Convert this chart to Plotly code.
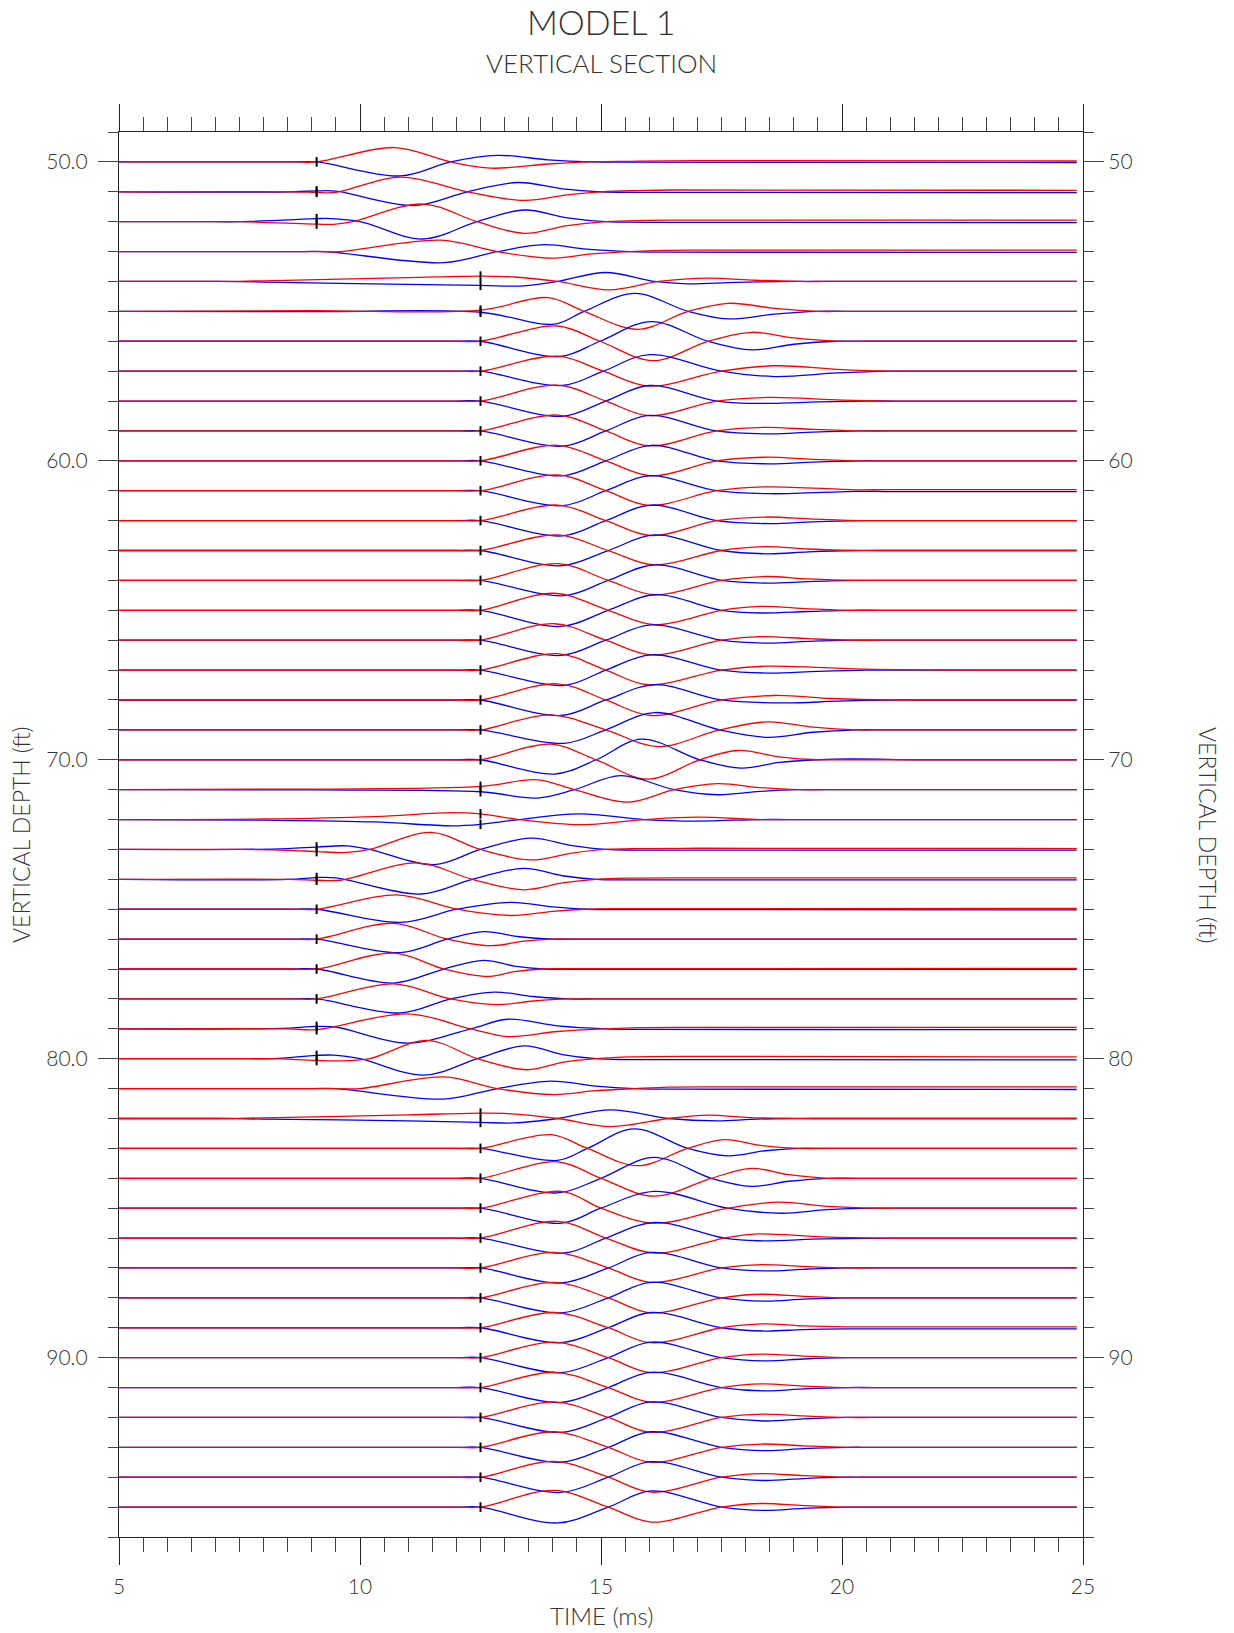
import plotly.graph_objects as go

# ---------------- data ----------------
DEPTHS = list(range(50, 96))

# arrival-time picks (black tick marks); None = no pick drawn
ARRIVAL = ([9.1, 9.1, 9.1, None] + [12.5] * 19 + [9.1] * 8 + [None] + [12.5] * 14)

# control points (time ms, amplitude in depth units, + = upward) for each depth
RED_PTS = [
    [[5,0],[8.6,0],[9.1,0],[10.72,0.48],[11.88,0],[12.71,-0.21],[13.9,-0.07],[14.8,0],[15.6,0.02],[17,0.04],[24.87,0.03]],
    [[5,0],[8.6,0],[9.1,-0.02],[9.5,-0.02],[10.84,0.49],[12.23,0],[13.41,-0.29],[14.3,-0.1],[15.0,0],[15.8,0.04],[16.5,0.06],[24.87,0.05]],
    [[5,0],[7.0,0],[7.5,0],[9.1,-0.08],[9.45,-0.09],[9.85,0],[11.3,0.59],[12.43,0],[13.41,-0.39],[14.3,-0.13],[15.1,0],[15.9,0.04],[16.5,0.05],[24.87,0.05]],
    [[5,0],[9.1,0],[9.6,0],[11.67,0.38],[12.85,0],[13.96,-0.22],[14.8,-0.08],[15.6,0],[16.3,0.04],[17,0.05],[24.87,0.05]],
    [[5,0],[7,0],[8,0.02],[11,0.13],[12.5,0.18],[13.2,0.15],[14.1,0],[15.17,-0.28],[16.2,0],[17.22,0.11],[18.2,0.04],[19.1,0],[19.7,0],[24.87,0]],
    [[5,0],[9,0.02],[12.5,0.04],[13.9,0.46],[14.65,0],[15.76,-0.6],[16.81,0],[17.64,0.27],[18.6,0.1],[19.5,0],[20.1,0],[24.87,0]],
    [[5,0],[12.0,0],[12.5,0],[14.1,0.51],[14.98,0],[16.08,-0.65],[17.22,0],[18.13,0.3],[19.0,0.11],[19.9,0],[20.5,0],[24.87,0]],
    [[5,0],[12.0,0],[12.5,0],[14.1,0.5],[15.05,0],[16.0,-0.5],[17.5,0],[18.6,0.18],[19.9,0.06],[21.0,0],[21.6,0],[24.87,0]],
    [[5,0],[12.0,0],[12.5,0],[14.1,0.53],[15.1,0],[16.0,-0.49],[17.4,0],[18.46,0.12],[20,0.03],[21,0],[21.6,0],[24.87,0]],
    [[5,0],[12.0,0],[12.5,0],[14.1,0.53],[15.1,0],[16.0,-0.5],[17.4,0],[18.4,0.12],[19.4,0.05],[20.4,0],[21.0,0],[24.87,0]],
    [[5,0],[12.0,0],[12.5,0],[14.1,0.52],[15.1,0],[16.04,-0.5],[17.4,0],[18.4,0.12],[19.4,0.05],[20.4,0],[21.0,0],[24.87,0]],
    [[5,0],[12.0,0],[12.5,0],[14.1,0.53],[15.1,0],[16.0,-0.49],[17.4,0],[18.4,0.13],[20.3,0.03],[21,0.04],[24.87,0.04]],
    [[5,0],[12.0,0],[12.5,0],[14.1,0.52],[15.1,0],[16.04,-0.5],[17.4,0],[18.4,0.12],[19.4,0.05],[20.4,0],[21.0,0],[24.87,0]],
    [[5,0],[12.0,0],[12.5,0],[14.1,0.52],[15.15,0],[16.11,-0.48],[17.5,0],[18.4,0.13],[19.3,0.05],[20.2,0],[20.8,0],[24.87,0]],
    [[5,0],[12.0,0],[12.5,0],[14.1,0.56],[15.15,0],[16.11,-0.48],[17.5,0],[18.4,0.13],[19.3,0.05],[20.2,0],[20.8,0],[24.87,0]],
    [[5,0],[12.0,0],[12.5,0],[14.03,0.57],[15.15,0],[16.11,-0.48],[17.5,0],[18.3,0.13],[19.3,0.05],[20.2,0],[20.8,0],[24.87,0]],
    [[5,0],[12.0,0],[12.5,0],[14.03,0.55],[15.1,0],[16.04,-0.49],[17.5,0],[18.3,0.12],[19.3,0.05],[20.2,0],[20.8,0],[24.87,0]],
    [[5,0],[12.0,0],[12.5,0],[14.1,0.55],[15.1,0],[15.97,-0.49],[17.5,0],[18.4,0.13],[20.5,0.03],[22.7,0],[23.3,0],[24.87,0]],
    [[5,0],[12.0,0],[12.5,0],[14.1,0.54],[15.1,0],[16.04,-0.52],[17.5,0],[18.6,0.15],[19.8,0.05],[21,0],[21.6,0],[24.87,0]],
    [[5,0],[12.0,0],[12.5,0],[13.96,0.5],[15.1,0],[16.18,-0.56],[17.46,0],[18.46,0.27],[19.4,0.09],[20.3,0],[20.9,0],[24.87,0]],
    [[5,0],[12.0,0],[12.5,0],[13.96,0.52],[14.9,0],[15.97,-0.65],[17.05,0],[17.84,0.31],[18.7,0.1],[19.5,0],[20.1,0],[24.87,0]],
    [[5,0],[9,0.02],[12.5,0.11],[13.68,0.33],[14.45,0],[15.55,-0.42],[16.52,0],[17.42,0.2],[18.3,0.07],[19.1,0],[19.7,0],[24.87,0]],
    [[5,0],[8,0.02],[10.3,0.1],[11.9,0.23],[12.5,0.19],[13.3,0],[14.55,-0.17],[15.9,0],[17,0.08],[18.3,0],[18.9,0],[24.87,0]],
    [[5,0],[7.5,0],[8.5,-0.03],[9.1,-0.07],[9.73,-0.1],[10.2,0],[11.47,0.57],[12.5,0],[13.54,-0.35],[14.4,-0.12],[15.1,0],[15.8,0.03],[17,0.04],[24.87,0.03]],
    [[5,0],[8.5,0],[9.1,-0.03],[9.6,-0.03],[11.19,0.55],[12.33,0],[13.4,-0.35],[14.2,-0.12],[14.9,0],[15.6,0.04],[17,0.05],[24.87,0.05]],
    [[5,0],[8.6,0],[9.1,0],[10.77,0.48],[12.02,0],[13.13,-0.21],[14.0,-0.07],[14.7,0],[15.4,0.02],[24.87,0.03]],
    [[5,0],[8.6,0],[9.1,0],[10.7,0.53],[11.81,0],[12.71,-0.22],[13.4,-0.07],[14.0,0],[14.6,0],[24.87,0]],
    [[5,0],[8.6,0],[9.1,0],[10.7,0.53],[11.74,0],[12.64,-0.25],[13.2,-0.09],[13.8,0],[14.4,0.01],[24.87,0.02]],
    [[5,0],[8.6,0],[9.1,0],[10.7,0.5],[11.88,0],[12.85,-0.19],[13.6,-0.07],[14.3,0],[14.9,0],[24.87,0]],
    [[5,0],[8.5,0],[9.1,-0.03],[10.98,0.5],[12.3,0],[13.06,-0.26],[14.1,-0.09],[15.1,0],[15.8,0.04],[17,0.05],[24.87,0.05]],
    [[5,0],[7.7,0],[8.2,0],[9.1,-0.06],[9.66,-0.07],[10.2,0],[11.4,0.61],[12.44,0],[13.47,-0.37],[14.2,-0.12],[14.9,0],[15.6,0.06],[17,0.08],[24.87,0.06]],
    [[5,0],[9.5,0],[10.0,0],[11.74,0.39],[12.85,0],[14.03,-0.2],[14.9,-0.07],[15.7,0],[16.4,0.05],[17.5,0.06],[24.87,0.06]],
    [[5,0],[7,0],[8,0.02],[11,0.12],[12.5,0.18],[13.0,0.17],[14.1,0],[15.2,-0.27],[16.4,0],[17.22,0.11],[18.0,0.04],[18.8,0],[19.4,0],[24.87,0]],
    [[5,0],[12.0,0],[12.5,0],[13.96,0.46],[14.72,0],[15.76,-0.58],[16.8,0],[17.56,0.29],[18.3,0.1],[19.1,0],[19.7,0],[24.87,0]],
    [[5,0],[12.0,0],[12.5,0],[14.1,0.55],[15.0,0],[16.1,-0.6],[17.29,0],[18.12,0.33],[18.9,0.12],[19.7,0],[20.3,0],[24.87,0]],
    [[5,0],[12.0,0],[12.5,0],[14.18,0.56],[15.0,0],[16.11,-0.5],[17.63,0],[18.67,0.2],[19.7,0.06],[20.7,0],[21.3,0],[24.87,0]],
    [[5,0],[12.0,0],[12.5,0],[14.1,0.56],[15.1,0],[16.11,-0.5],[17.56,0],[18.26,0.14],[19.6,0.04],[21,0],[21.6,0],[24.87,0]],
    [[5,0],[12.0,0],[12.5,0],[14.03,0.52],[15.15,0],[16.04,-0.48],[17.5,0],[18.33,0.11],[19.2,0.05],[20.1,0],[20.7,0],[24.87,0]],
    [[5,0],[12.0,0],[12.5,0],[14.03,0.52],[15.15,0],[16.04,-0.5],[17.5,0],[18.33,0.12],[19.2,0.05],[20.1,0],[20.7,0],[24.87,0]],
    [[5,0],[12.0,0],[12.5,0],[14.03,0.51],[15.15,0],[16.04,-0.5],[17.5,0],[18.33,0.13],[19.2,0.06],[20.1,0.03],[24.87,0.03]],
    [[5,0],[12.0,0],[12.5,0],[14.03,0.52],[15.15,0],[16.04,-0.5],[17.5,0],[18.33,0.12],[19.2,0.05],[20.1,0],[20.7,0],[24.87,0]],
    [[5,0],[12.0,0],[12.5,0],[14.03,0.51],[15.15,0],[16.04,-0.49],[17.5,0],[18.33,0.12],[19.2,0.05],[20.1,0],[20.7,0],[24.87,0]],
    [[5,0],[12.0,0],[12.5,0],[14.03,0.52],[15.15,0],[16.04,-0.5],[17.5,0],[18.33,0.11],[19.2,0.05],[20.1,0],[20.7,0],[24.87,0]],
    [[5,0],[12.0,0],[12.5,0],[14.03,0.52],[15.15,0],[16.04,-0.5],[17.5,0],[18.33,0.11],[19.2,0.05],[20.1,0],[20.7,0],[24.87,0]],
    [[5,0],[12.0,0],[12.5,0],[14.03,0.53],[15.15,0],[16.04,-0.5],[17.5,0],[18.33,0.12],[19.2,0.05],[20.1,0],[20.7,0],[24.87,0]],
    [[5,0],[12.0,0],[12.5,0],[14.03,0.56],[15.15,0],[16.04,-0.5],[17.5,0],[18.33,0.12],[19.2,0.05],[20.1,0],[20.7,0],[24.87,0]],
]

BLUE_PTS = [
    [[5,0],[8.6,0],[9.1,0],[10.84,-0.47],[11.88,0],[12.85,0.22],[13.9,0.07],[14.8,0],[15.6,-0.01],[24.87,-0.02]],
    [[5,0],[8.6,0],[9.1,0.03],[9.5,0.02],[11.12,-0.46],[12.23,0],[13.27,0.31],[14.2,0.1],[15.0,0],[15.8,-0.02],[24.87,-0.03]],
    [[5,0],[7.0,0],[7.5,0],[9.1,0.1],[9.3,0.11],[10.0,0],[11.3,-0.58],[12.43,0],[13.41,0.39],[14.3,0.13],[15.1,0],[15.9,-0.02],[24.87,-0.03]],
    [[5,0],[8.8,0],[9.3,0],[11.74,-0.37],[12.85,0],[13.82,0.23],[14.7,0.08],[15.6,0],[16.3,-0.02],[24.87,-0.03]],
    [[5,0],[7,0],[8,-0.02],[11,-0.1],[12.5,-0.13],[13.4,-0.15],[14.1,0],[15.1,0.3],[16.1,0],[16.8,-0.08],[17.8,-0.03],[19.0,0],[19.6,0],[24.87,0]],
    [[5,0],[9,-0.01],[12.5,-0.03],[14.03,-0.43],[14.65,0],[15.7,0.6],[16.81,0],[17.64,-0.25],[18.6,-0.09],[19.5,0],[20.1,0],[24.87,0]],
    [[5,0],[12.0,0],[12.5,0],[14.15,-0.51],[14.98,0],[16.04,0.66],[17.22,0],[18.13,-0.29],[19.0,-0.1],[19.9,0],[20.5,0],[24.87,0]],
    [[5,0],[12.0,0],[12.5,0],[14.2,-0.48],[15.05,0],[16.0,0.55],[17.5,0],[18.6,-0.18],[19.9,-0.06],[21,0],[21.6,0],[24.87,0]],
    [[5,0],[12.0,0],[12.5,0],[14.2,-0.51],[15.1,0],[16.0,0.52],[17.4,0],[18.46,-0.08],[19.5,-0.03],[20.5,0],[21.1,0],[24.87,0]],
    [[5,0],[12.0,0],[12.5,0],[14.2,-0.51],[15.1,0],[16.0,0.52],[17.4,0],[18.5,-0.1],[19.4,-0.04],[20.4,0],[21.0,0],[24.87,0]],
    [[5,0],[12.0,0],[12.5,0],[14.2,-0.5],[15.1,0],[16.04,0.52],[17.4,0],[18.5,-0.1],[19.4,-0.04],[20.4,0],[21.0,0],[24.87,0]],
    [[5,0],[12.0,0],[12.5,0],[14.2,-0.5],[15.1,0],[16.0,0.5],[17.4,0],[18.5,-0.1],[20.3,-0.02],[21,-0.03],[24.87,-0.03]],
    [[5,0],[12.0,0],[12.5,0],[14.2,-0.51],[15.1,0],[16.04,0.52],[17.4,0],[18.5,-0.1],[19.4,-0.04],[20.4,0],[21.0,0],[24.87,0]],
    [[5,0],[12.0,0],[12.5,0],[14.17,-0.51],[15.15,0],[16.11,0.52],[17.5,0],[18.46,-0.11],[19.3,-0.045],[20.2,0],[20.8,0],[24.87,0]],
    [[5,0],[12.0,0],[12.5,0],[14.24,-0.51],[15.15,0],[16.11,0.52],[17.5,0],[18.46,-0.09],[19.3,-0.04],[20.2,0],[20.8,0],[24.87,0]],
    [[5,0],[12.0,0],[12.5,0],[14.17,-0.54],[15.15,0],[16.11,0.52],[17.5,0],[18.3,-0.09],[19.3,-0.04],[20.2,0],[20.8,0],[24.87,0]],
    [[5,0],[12.0,0],[12.5,0],[14.17,-0.51],[15.1,0],[16.04,0.51],[17.5,0],[18.46,-0.1],[19.3,-0.04],[20.2,0],[20.8,0],[24.87,0]],
    [[5,0],[12.0,0],[12.5,0],[14.24,-0.51],[15.1,0],[16.04,0.51],[17.5,0],[18.46,-0.1],[19.5,-0.04],[20.5,0],[21.1,0],[24.87,0]],
    [[5,0],[12.0,0],[12.5,0],[14.17,-0.52],[15.1,0],[16.11,0.51],[17.5,0],[18.81,-0.1],[19.9,-0.04],[21,0],[21.6,0],[24.87,0]],
    [[5,0],[12.0,0],[12.5,0],[14.24,-0.45],[15.1,0],[16.11,0.58],[17.46,0],[18.46,-0.25],[19.4,-0.08],[20.3,0],[20.9,0],[24.87,0]],
    [[5,0],[12.0,0],[12.5,0],[14.03,-0.48],[14.9,0],[15.84,0.69],[17.05,0],[17.91,-0.28],[18.7,-0.09],[19.5,0],[20.2,0.03],[21.5,0],[22.1,0],[24.87,0]],
    [[5,0],[9,-0.01],[12.5,-0.07],[13.68,-0.28],[14.45,0],[15.41,0.47],[16.52,0],[17.42,-0.17],[18.3,-0.06],[19.1,0],[19.7,0],[24.87,0]],
    [[5,0],[8,-0.02],[10.3,-0.08],[11.9,-0.21],[12.5,-0.16],[13.3,0],[14.55,0.19],[15.9,0],[17,-0.05],[18.3,0],[18.9,0],[24.87,0]],
    [[5,0],[7.5,0],[8.5,0.03],[9.1,0.08],[9.73,0.12],[10.2,0],[11.54,-0.51],[12.5,0],[13.54,0.38],[14.4,0.13],[15.1,0],[15.8,-0.02],[24.87,-0.02]],
    [[5,0],[8.5,0],[9.1,0.06],[9.5,0.05],[11.26,-0.49],[12.33,0],[13.4,0.37],[14.2,0.12],[14.9,0],[15.6,-0.02],[24.87,-0.02]],
    [[5,0],[8.6,0],[9.1,0],[10.84,-0.44],[12.02,0],[13.13,0.23],[14.0,0.08],[14.7,0],[15.4,-0.01],[24.87,-0.02]],
    [[5,0],[8.6,0],[9.1,0],[10.84,-0.45],[11.81,0],[12.57,0.25],[13.3,0.08],[14.0,0],[14.6,0],[24.87,0]],
    [[5,0],[8.6,0],[9.1,0],[10.7,-0.47],[11.74,0],[12.57,0.29],[13.2,0.1],[13.8,0],[14.4,-0.01],[24.87,-0.01]],
    [[5,0],[8.6,0],[9.1,0],[10.84,-0.47],[11.88,0],[12.78,0.23],[13.6,0.08],[14.3,0],[14.9,0],[24.87,0]],
    [[5,0],[8.0,0],[8.5,0.02],[9.1,0.08],[9.5,0.06],[10.98,-0.48],[12.3,0],[13.06,0.32],[14.1,0.1],[15.1,0],[15.8,-0.02],[24.87,-0.03]],
    [[5,0],[7.7,0],[8.2,0],[9.1,0.11],[9.45,0.12],[10.0,0],[11.33,-0.55],[12.44,0],[13.41,0.43],[14.2,0.14],[14.9,0],[15.6,-0.03],[24.87,-0.04]],
    [[5,0],[9.0,0],[9.5,0],[11.74,-0.35],[12.85,0],[13.96,0.25],[14.9,0.08],[15.7,0],[16.4,-0.02],[24.87,-0.03]],
    [[5,0],[7,0],[8,-0.02],[11,-0.08],[12.5,-0.13],[13.2,-0.15],[14.1,0],[15.2,0.29],[16.4,0],[17.42,-0.08],[18.1,-0.03],[18.8,0],[19.4,0],[24.87,0]],
    [[5,0],[12.0,0],[12.5,0],[14.1,-0.4],[14.72,0],[15.69,0.65],[16.8,0],[17.63,-0.25],[18.4,-0.08],[19.1,0],[19.7,0],[24.87,0]],
    [[5,0],[12.0,0],[12.5,0],[14.1,-0.49],[15.0,0],[16.1,0.7],[17.29,0],[18.12,-0.27],[18.9,-0.1],[19.7,0],[20.3,0],[24.87,0]],
    [[5,0],[12.0,0],[12.5,0],[14.18,-0.5],[15.0,0],[16.11,0.56],[17.63,0],[18.74,-0.17],[19.7,-0.05],[20.7,0],[21.3,0],[24.87,0]],
    [[5,0],[12.0,0],[12.5,0],[14.24,-0.5],[15.1,0],[16.11,0.52],[17.56,0],[18.26,-0.09],[19.6,-0.03],[21,0],[21.6,0],[24.87,0]],
    [[5,0],[12.0,0],[12.5,0],[14.17,-0.5],[15.15,0],[16.04,0.52],[17.5,0],[18.4,-0.1],[19.2,-0.045],[20.1,0],[20.7,0],[24.87,0]],
    [[5,0],[12.0,0],[12.5,0],[14.17,-0.5],[15.15,0],[16.04,0.52],[17.5,0],[18.4,-0.11],[19.2,-0.045],[20.1,0],[20.7,0],[24.87,0]],
    [[5,0],[12.0,0],[12.5,0],[14.17,-0.5],[15.15,0],[16.04,0.51],[17.5,0],[18.4,-0.11],[19.2,-0.06],[20.1,-0.04],[24.87,-0.04]],
    [[5,0],[12.0,0],[12.5,0],[14.17,-0.5],[15.15,0],[16.04,0.52],[17.5,0],[18.4,-0.11],[19.2,-0.045],[20.1,0],[20.7,0],[24.87,0]],
    [[5,0],[12.0,0],[12.5,0],[14.17,-0.5],[15.15,0],[16.04,0.51],[17.5,0],[18.4,-0.11],[19.2,-0.045],[20.1,0],[20.7,0],[24.87,0]],
    [[5,0],[12.0,0],[12.5,0],[14.17,-0.5],[15.15,0],[16.04,0.52],[17.5,0],[18.4,-0.12],[19.2,-0.05],[20.1,0],[20.7,0],[24.87,0]],
    [[5,0],[12.0,0],[12.5,0],[14.17,-0.5],[15.15,0],[16.04,0.52],[17.5,0],[18.4,-0.11],[19.2,-0.045],[20.1,0],[20.7,0],[24.87,0]],
    [[5,0],[12.0,0],[12.5,0],[14.17,-0.51],[15.15,0],[16.04,0.52],[17.5,0],[18.4,-0.11],[19.2,-0.045],[20.1,0],[20.7,0],[24.87,0]],
    [[5,0],[12.0,0],[12.5,0],[14.1,-0.53],[15.15,0],[16.04,0.54],[17.5,0],[18.4,-0.11],[19.2,-0.045],[20.1,0],[20.7,0],[24.87,0]],
]

X_TICKS = [5, 10, 15, 20, 25]
Y_TICKS = [50, 60, 70, 80, 90]

RED = "#ff0000"
BLUE = "#0000ff"
TXT = "#333333"
FONT = "Lato"

# ---------------- figure ----------------
fig = go.Figure()

def amp_at(pts, t):
    for p in pts:
        if abs(p[0] - t) < 1e-9:
            return p[1]
    return 0.0

for i, d in enumerate(DEPTHS):
    for pts, col in ((BLUE_PTS[i], BLUE), (RED_PTS[i], RED)):
        fig.add_trace(go.Scatter(
            x=[p[0] for p in pts], y=[d - p[1] for p in pts], mode="lines",
            line=dict(color=col, width=1.3, shape="spline", smoothing=1.0),
            hoverinfo="skip", showlegend=False))

tx, ty = [], []
HALF = 0.16
for i, d in enumerate(DEPTHS):
    a = ARRIVAL[i]
    if a is None:
        continue
    vals = {amp_at(RED_PTS[i], a), amp_at(BLUE_PTS[i], a)}
    for v in vals:
        tx += [a, a, None]
        ty += [d - v - HALF, d - v + HALF, None]
fig.add_trace(go.Scatter(x=tx, y=ty, mode="lines", line=dict(color="black", width=2),
                         hoverinfo="skip", showlegend=False))

# dummy trace so the mirrored axes are drawn
fig.add_trace(go.Scatter(x=[5], y=[50], xaxis="x2", yaxis="y2", mode="markers",
                         marker=dict(opacity=0), hoverinfo="skip", showlegend=False))

axcol = "#222222"
common_x = dict(range=[5, 25], tickvals=X_TICKS, ticks="outside", ticklen=27, tickwidth=1.2,
                tickcolor=axcol, showline=True, linecolor=axcol, linewidth=1.2,
                showgrid=False, zeroline=False,
                minor=dict(dtick=0.5, tick0=5, ticks="outside", ticklen=14, tickwidth=1.2,
                           tickcolor="#444444", showgrid=False))
common_y = dict(range=[96, 49], tickvals=Y_TICKS, ticks="outside", ticklen=20, tickwidth=1.2,
                tickcolor="#444444", showline=True, linecolor=axcol, linewidth=1.2,
                showgrid=False, zeroline=False,
                minor=dict(dtick=1, tick0=49, ticks="outside", ticklen=10, tickwidth=1.2,
                           tickcolor="#444444", showgrid=False))

fig.update_layout(
    width=1234, height=1633,
    margin=dict(l=119, r=151, t=132, b=96),
    paper_bgcolor="white", plot_bgcolor="white",
    showlegend=False,
    font=dict(family=FONT, size=20, color=TXT),
    xaxis=dict(**common_x, side="bottom", ticklabelstandoff=4,
               tickfont=dict(size=21, color=TXT, family=FONT, weight=300)),
    xaxis2=dict(**common_x, side="top", overlaying="x", showticklabels=False),
    yaxis=dict(**common_y, side="left", tickformat=".1f", ticklabelstandoff=6,
               tickfont=dict(size=21, color=TXT, family=FONT, weight=300)),
    yaxis2=dict(**common_y, side="right", overlaying="y", tickformat="d",
                tickfont=dict(size=21, color=TXT, family=FONT, weight=300)),
)

def ypap(px):
    return (1537 - px) / 1405.0

def xpap(px):
    return (px - 119) / 964.0

ann = [
    dict(text="MODEL 1", x=0.5, y=ypap(21), size=34),
    dict(text="VERTICAL SECTION", x=0.5, y=ypap(63), size=26),
    dict(text="TIME (ms)", x=0.5, y=ypap(1615), size=24),
]
for a in ann:
    fig.add_annotation(text=a["text"], x=a["x"], y=a["y"], xref="paper", yref="paper",
                       xanchor="center", yanchor="middle", showarrow=False,
                       font=dict(size=a["size"], color=TXT, family=FONT, weight=300))
fig.add_annotation(text="VERTICAL DEPTH (ft)", x=xpap(21), y=ypap(835), xref="paper", yref="paper",
                   xanchor="center", yanchor="middle", showarrow=False, textangle=-90,
                   font=dict(size=23, color=TXT, family=FONT, weight=300))
fig.add_annotation(text="VERTICAL DEPTH (ft)", x=xpap(1208), y=ypap(835), xref="paper", yref="paper",
                   xanchor="center", yanchor="middle", showarrow=False, textangle=90,
                   font=dict(size=23, color=TXT, family=FONT, weight=300))

fig.write_html("out.html")
